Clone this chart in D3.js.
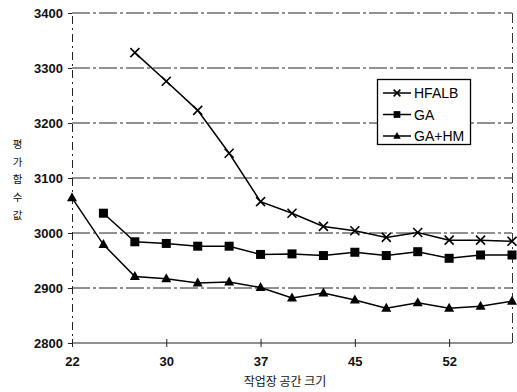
<!DOCTYPE html>
<html>
<head>
<meta charset="utf-8">
<script src="https://cdn.jsdelivr.net/npm/d3@7"></script>
<style>
  html, body { margin: 0; padding: 0; background: #fff; }
  svg { display: block; font-family: "Liberation Sans", Arial, sans-serif; }
</style>
</head>
<body>
<div id="chart"></div>
<script>
// category slots along the x axis (only every third one is labelled)
const slots = [0, 1, 2, 3, 4, 5, 6, 7, 8, 9, 10, 11, 12, 13, 14];
const tickSlots = [0, 3, 6, 9, 12];
const tickLabels = ['22', '30', '37', '45', '52'];
const yTicks = [2800, 2900, 3000, 3100, 3200, 3300, 3400];

const hfalb = [null, null, 3328, 3276, 3223, 3145, 3057, 3036, 3012, 3004, 2992, 3001, 2987, 2987, 2985];
const ga    = [null, 3036, 2984, 2981, 2976, 2976, 2961, 2962, 2959, 2965, 2959, 2966, 2954, 2960, 2960];
const gahm  = [3064, 2979, 2921, 2917, 2909, 2911, 2901, 2882, 2891, 2878, 2863, 2873, 2863, 2867, 2876];

const seriesNames = ['HFALB', 'GA', 'GA+HM'];

const W = 517, H = 392;
const plot = { left: 72, right: 512, top: 13, bottom: 343 };

const svg = d3.select('#chart').append('svg')
  .attr('width', W)
  .attr('height', H);

const x = d3.scalePoint().domain(slots).range([plot.left, plot.right]);
const y = d3.scaleLinear().domain([2800, 3400]).range([plot.bottom, plot.top]);

// gridlines (scanned look: dash-dot)
svg.append('g')
  .selectAll('line')
  .data(yTicks)
  .join('line')
  .attr('x1', plot.left).attr('x2', plot.right)
  .attr('y1', d => y(d)).attr('y2', d => y(d))
  .attr('stroke', '#222')
  .attr('stroke-width', 1)
  .attr('stroke-dasharray', d => d === 2800 ? null : '18,3,3,3');

// right border
svg.append('line')
  .attr('x1', plot.right + 0.5).attr('x2', plot.right + 0.5)
  .attr('y1', plot.top).attr('y2', plot.bottom)
  .attr('stroke', '#333')
  .attr('stroke-dasharray', '10,4,2,4');

// y axis
const yAxis = svg.append('g')
  .attr('transform', `translate(${plot.left},0)`)
  .call(d3.axisLeft(y).tickValues(yTicks).tickSize(4).tickPadding(5).tickFormat(d3.format('d')));
yAxis.select('.domain').attr('stroke', '#222').attr('stroke-dasharray', '8,4,2,4');
yAxis.selectAll('.tick line').attr('stroke', '#222');
yAxis.selectAll('text')
  .attr('font-size', 13)
  .attr('font-weight', 'bold')
  .attr('fill', '#111')
  .attr('font-family', '"Liberation Sans", Arial, sans-serif');

// x axis
const xAxis = svg.append('g')
  .attr('transform', `translate(0,${plot.bottom})`)
  .call(d3.axisBottom(x).tickValues(tickSlots).tickSize(4).tickPadding(10)
    .tickFormat((d, i) => tickLabels[i]));
xAxis.select('.domain').remove();
xAxis.selectAll('.tick line').attr('y1', -4).attr('stroke', '#222');
xAxis.selectAll('text')
  .attr('font-size', 13)
  .attr('font-weight', 'bold')
  .attr('fill', '#111')
  .attr('font-family', '"Liberation Sans", Arial, sans-serif');

// axis titles
svg.append('text')
  .attr('x', 285)
  .attr('y', 386)
  .attr('text-anchor', 'middle')
  .attr('font-family', '"Noto Sans CJK KR", sans-serif')
  .attr('font-size', 12)
  .attr('fill', '#111')
  .text('작업장 공간 크기');

const yTitle = ['평', '가', '함', '수', '값'];
svg.append('g')
  .selectAll('text')
  .data(yTitle)
  .join('text')
  .attr('x', 17.5)
  .attr('y', (d, i) => 148 + i * 17.7)
  .attr('text-anchor', 'middle')
  .attr('font-family', '"Noto Sans CJK KR", sans-serif')
  .attr('font-size', 10.5)
  .attr('fill', '#111')
  .text(d => d);

// markers
function drawMarker(g, kind, cx, cy, k = 1) {
  if (kind === 'x') {
    const s = 4.5 * k;
    g.append('path')
      .attr('d', `M${cx - s},${cy - s}L${cx + s},${cy + s}M${cx - s},${cy + s}L${cx + s},${cy - s}`)
      .attr('stroke', '#000').attr('stroke-width', 1.6).attr('fill', 'none');
  } else if (kind === 'square') {
    g.append('rect')
      .attr('x', cx - 4.5 * k).attr('y', cy - 4.5 * k)
      .attr('width', 9 * k).attr('height', 9 * k)
      .attr('fill', '#000');
  } else {
    g.append('path')
      .attr('d', `M${cx},${cy - 5.5 * k}L${cx + 5 * k},${cy + 3.5 * k}L${cx - 5 * k},${cy + 3.5 * k}Z`)
      .attr('fill', '#000');
  }
}

const series = [
  { name: seriesNames[0], values: hfalb, marker: 'x' },
  { name: seriesNames[1], values: ga, marker: 'square' },
  { name: seriesNames[2], values: gahm, marker: 'triangle' }
];

const line = d3.line()
  .defined(d => d.v != null)
  .x(d => x(d.i))
  .y(d => y(d.v));

series.forEach(s => {
  const pts = s.values.map((v, i) => ({ i: slots[i], v }));
  svg.append('path')
    .datum(pts)
    .attr('fill', 'none')
    .attr('stroke', '#000')
    .attr('stroke-width', 1.5)
    .attr('d', line);
  const g = svg.append('g');
  pts.filter(d => d.v != null).forEach(d => drawMarker(g, s.marker, x(d.i), y(d.v)));
});

// legend
const lg = svg.append('g').attr('transform', 'translate(377,79)');
lg.append('rect')
  .attr('x', 0.5).attr('y', 0.5)
  .attr('width', 93).attr('height', 65)
  .attr('fill', '#fff')
  .attr('stroke', '#000')
  .attr('stroke-width', 1.3);
series.forEach((s, i) => {
  const cy = 14 + i * 21.5;
  lg.append('line')
    .attr('x1', 6).attr('x2', 34)
    .attr('y1', cy).attr('y2', cy)
    .attr('stroke', '#000').attr('stroke-width', 1.5);
  drawMarker(lg, s.marker, 20, cy, 0.75);
  lg.append('text')
    .attr('x', 37)
    .attr('y', cy + 5)
    .attr('font-size', 14)
    .attr('fill', '#000')
    .text(s.name);
});
</script>
</body>
</html>
